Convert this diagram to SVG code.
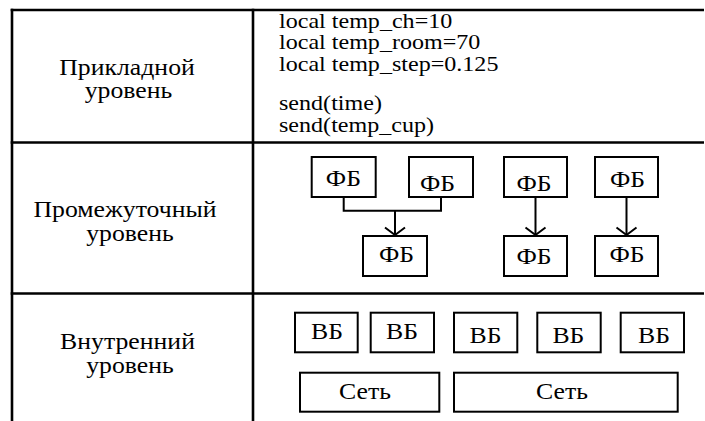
<svg xmlns="http://www.w3.org/2000/svg" width="705" height="421" viewBox="0 0 705 421">
<style>
.t{font-family:"Liberation Serif","Times New Roman",serif;fill:#000}
.lbl{font-size:23px}
.code{font-size:21.5px}
.bx{font-size:23px}
.box{fill:#fff;stroke:#000;stroke-width:2}
.grid{stroke:#000;stroke-width:2.6;fill:none}
.con{stroke:#000;stroke-width:2;fill:none}
</style>
<defs>
<marker id="arr" markerUnits="userSpaceOnUse" markerWidth="24" markerHeight="24" viewBox="-12 -12 24 24" refX="0" refY="0" orient="auto" overflow="visible">
<path d="M-7.5,-10 L0,0 L-7.5,10" fill="none" stroke="#000" stroke-width="2"/>
</marker>
</defs>
<rect width="705" height="421" fill="#fff"/>
<g id="table">
<line class="grid" x1="10.7" y1="10" x2="704" y2="10"/>
<line class="grid" x1="10.7" y1="142.5" x2="704" y2="142.5"/>
<line class="grid" x1="10.7" y1="293.5" x2="704" y2="293.5"/>
<line class="grid" x1="12" y1="8.7" x2="12" y2="421"/>
<line class="grid" x1="253" y1="8.7" x2="253" y2="421"/>
</g>
<g id="label-app">
<text class="t lbl" text-anchor="middle" transform="translate(127,74.5) scale(1.12,1)">Прикладной</text>
<text class="t lbl" text-anchor="middle" transform="translate(128.5,98) scale(1.12,1)">уровень</text>
</g>
<g id="label-mid">
<text class="t lbl" text-anchor="middle" transform="translate(125,217) scale(1.12,1)">Промежуточный</text>
<text class="t lbl" text-anchor="middle" transform="translate(130,240.5) scale(1.12,1)">уровень</text>
</g>
<g id="label-int">
<text class="t lbl" text-anchor="middle" transform="translate(127.5,349) scale(1.12,1)">Внутренний</text>
<text class="t lbl" text-anchor="middle" transform="translate(130,373) scale(1.12,1)">уровень</text>
</g>
<g id="code">
<text class="t code" transform="translate(279,27.5) scale(1.12,1)">local temp_ch=10</text>
<text class="t code" transform="translate(279,49) scale(1.12,1)">local temp_room=70</text>
<text class="t code" transform="translate(279,70.5) scale(1.12,1)">local temp_step=0.125</text>
<text class="t code" transform="translate(279,110) scale(1.12,1)">send(time)</text>
<text class="t code" transform="translate(279,131.5) scale(1.12,1)">send(temp_cup)</text>
</g>
<g id="connectors">
<path class="con" d="M343.7,197 V210.7 H441 V197"/>
<path class="con" d="M395,210.7 V235" marker-end="url(#arr)"/>
<path class="con" d="M535.5,197 V235" marker-end="url(#arr)"/>
<path class="con" d="M626.5,197 V235" marker-end="url(#arr)"/>
</g>
<g id="fb1"><rect class="box" x="311.7" y="157" width="64" height="40"/><text class="t bx" text-anchor="middle" transform="translate(343.4,186) scale(1.12,1)">ФБ</text></g>
<g id="fb2"><rect class="box" x="409" y="157" width="64" height="40"/><text class="t bx" text-anchor="middle" transform="translate(437.5,191) scale(1.12,1)">ФБ</text></g>
<g id="fb3"><rect class="box" x="363" y="236" width="64" height="40"/><text class="t bx" text-anchor="middle" transform="translate(396.5,262) scale(1.12,1)">ФБ</text></g>
<g id="fb4"><rect class="box" x="504" y="157" width="63" height="40"/><text class="t bx" text-anchor="middle" transform="translate(534,191) scale(1.12,1)">ФБ</text></g>
<g id="fb5"><rect class="box" x="595" y="157" width="63" height="40"/><text class="t bx" text-anchor="middle" transform="translate(627.5,187) scale(1.12,1)">ФБ</text></g>
<g id="fb6"><rect class="box" x="504" y="236" width="63" height="40"/><text class="t bx" text-anchor="middle" transform="translate(534,264) scale(1.12,1)">ФБ</text></g>
<g id="fb7"><rect class="box" x="595" y="236" width="63" height="40"/><text class="t bx" text-anchor="middle" transform="translate(627,262) scale(1.12,1)">ФБ</text></g>
<g id="vb1"><rect class="box" x="295" y="312.7" width="62.7" height="39.6"/><text class="t bx" text-anchor="middle" transform="translate(327,339.3) scale(1.12,1)">ВБ</text></g>
<g id="vb2"><rect class="box" x="370.7" y="312.7" width="63.3" height="39.6"/><text class="t bx" text-anchor="middle" transform="translate(402,339.3) scale(1.12,1)">ВБ</text></g>
<g id="vb3"><rect class="box" x="454" y="312.7" width="63.3" height="39.6"/><text class="t bx" text-anchor="middle" transform="translate(485.5,342.7) scale(1.12,1)">ВБ</text></g>
<g id="vb4"><rect class="box" x="537.3" y="312.7" width="63.4" height="39.6"/><text class="t bx" text-anchor="middle" transform="translate(568.4,342.7) scale(1.12,1)">ВБ</text></g>
<g id="vb5"><rect class="box" x="620.7" y="312.7" width="63.3" height="39.6"/><text class="t bx" text-anchor="middle" transform="translate(654,342.7) scale(1.12,1)">ВБ</text></g>
<g id="net1"><rect class="box" x="300" y="372.7" width="139.3" height="39"/><text class="t bx" text-anchor="middle" transform="translate(365,399) scale(1.12,1)">Сеть</text></g>
<g id="net2"><rect class="box" x="454" y="372.7" width="223.7" height="39"/><text class="t bx" text-anchor="middle" transform="translate(562,399) scale(1.12,1)">Сеть</text></g>
</svg>
